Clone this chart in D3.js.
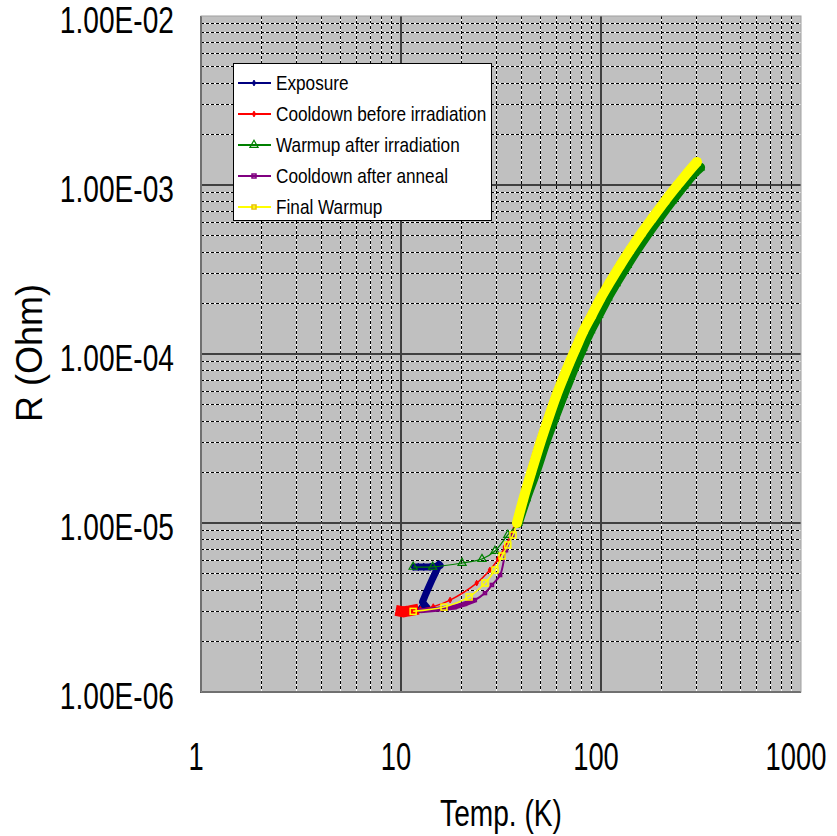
<!DOCTYPE html>
<html><head><meta charset="utf-8">
<script src="https://cdn.jsdelivr.net/npm/d3@7"></script>
<style>body{margin:0;background:#fff}svg{display:block}text{font-family:"Liberation Sans",Arial,sans-serif;fill:#000}</style>
</head><body>
<svg id="c" width="837" height="836"></svg>
<script>
// ---- data (T in K, R in Ohm) ----
const seriesNames = ["Exposure","Cooldown before irradiation","Warmup after irradiation","Cooldown after anneal","Final Warmup"];
const seriesColors = ["#000080","#ff0000","#008000","#800080","#ffff00"];
const xTickLabels = ["1","10","100","1000"];
const yTickLabels = ["1.00E-06","1.00E-05","1.00E-04","1.00E-03","1.00E-02"];
const exposure = [[12.4,3.1e-6],[12.9,3.1e-6],[13.5,3.15e-6],[12.8,3.4e-6],[13.3,3.8e-6],[13.8,4.2e-6],[14.4,4.7e-6],[15.0,5.2e-6],[15.5,5.7e-6],[15.7,5.6e-6],[15.0,5.55e-6],[14.0,5.5e-6],[13.0,5.5e-6],[12.2,5.5e-6],[11.5,5.5e-6]];
const cooldownBefore = [[293,1.37e-3],[262,1.175e-3],[233,9.9e-4],[204,8.1e-4],[175,6.34e-4],[155,5.23e-4],[136,4.14e-4],[121,3.36e-4],[107,2.62e-4],[97,2.16e-4],[87,1.70e-4],[79.5,1.38e-4],[72.7,1.09e-4],[68,9.03e-5],[63,7.3e-5],[58.2,5.74e-5],[53.4,4.28e-5],[48.5,3.05e-5],[43.7,2.03e-5],[40,1.4e-5],[37,1.0e-5],[35.8,8.73e-6],[33,7.21e-6],[30.6,6.12e-6],[27.8,5.27e-6],[23.9,4.41e-6],[17.6,3.5e-6],[14.5,3.2e-6],[12.5,3.08e-6],[11.5,3.05e-6],[11.0,3.02e-6],[10.6,3.0e-6],[10.3,2.98e-6],[10.0,3.0e-6]];
const warmupAfterIrr = [[11.5,5.5e-6],[14.4,5.5e-6],[20.2,5.8e-6],[25.4,6.12e-6],[29.5,6.83e-6],[34.2,8.5e-6],[38.4,1.0e-5],[42.2,1.4e-5],[47.3,2.03e-5],[53,3.05e-5],[58.9,4.28e-5],[64.8,5.74e-5],[70.2,7.3e-5],[75.6,9.03e-5],[81,1.09e-4],[88.6,1.38e-4],[97.2,1.70e-4],[108,2.16e-4],[118.8,2.62e-4],[135,3.36e-4],[151,4.14e-4],[172.8,5.23e-4],[194.4,6.34e-4],[226.8,8.1e-4],[259,9.9e-4],[291.6,1.175e-3],[313,1.27e-3]];
const cooldownAnneal = [[36,8.4e-6],[33.5,6.9e-6],[31.3,4.92e-6],[28.5,4.3e-6],[26.3,3.85e-6],[23.4,3.5e-6],[20.9,3.32e-6],[18.6,3.18e-6],[15.7,3.1e-6],[12.5,3.03e-6]];
const finalWarmup = [[11.5,3.0e-6],[16.4,3.18e-6],[21.9,3.65e-6],[26.3,4.41e-6],[29.5,5.27e-6],[32,6.38e-6],[34.2,7.41e-6],[36.3,8.49e-6],[38,1.0e-5],[41,1.4e-5],[45,2.03e-5],[50,3.05e-5],[55,4.28e-5],[60,5.74e-5],[65,7.3e-5],[70,9.03e-5],[75,1.09e-4],[82,1.38e-4],[90,1.70e-4],[100,2.16e-4],[110,2.62e-4],[125,3.36e-4],[140,4.14e-4],[160,5.23e-4],[180,6.34e-4],[210,8.1e-4],[240,9.9e-4],[270,1.175e-3],[302,1.37e-3]];
const allSeries = [exposure, cooldownBefore, warmupAfterIrr, cooldownAnneal, finalWarmup];
const markerTypes = ["diamond","diamond","triangle","square","square"];

// ---- layout ----
const L=201,R=801,T=16,B=692;
const svg=d3.select("#c");
const x=d3.scaleLog().domain([1,1000]).range([L,R]);
const y=d3.scaleLog().domain([1e-6,1e-2]).range([B,T]);

// narrow text: draw at (px,py) horizontally compressed by f
function ntext(parent,px,py,str,size,anchor,f){
  return parent.append("text").attr("transform",`translate(${px},${py}) scale(${f},1)`).attr("text-anchor",anchor).attr("font-size",size).text(str);
}

svg.append("rect").attr("x",L).attr("y",T).attr("width",R-L).attr("height",B-T).attr("fill","#c0c0c0");

// minor grid
const minorX=[],minorY=[];
[1,10,100].forEach(d=>{for(let k=2;k<=9;k++)minorX.push(d*k);});
[1e-6,1e-5,1e-4,1e-3].forEach(d=>{for(let k=2;k<=9;k++)minorY.push(d*k);});
const g=svg.append("g");
minorX.forEach(v=>{
  g.append("line").attr("x1",x(v)).attr("x2",x(v)).attr("y1",T).attr("y2",B).attr("stroke","#fff").attr("stroke-width",1).attr("shape-rendering","crispEdges");
  g.append("line").attr("x1",x(v)).attr("x2",x(v)).attr("y1",T).attr("y2",B).attr("stroke","#000").attr("stroke-width",1).attr("stroke-dasharray","3,2").attr("shape-rendering","crispEdges");
});
minorY.forEach(v=>{
  g.append("line").attr("y1",y(v)).attr("y2",y(v)).attr("x1",L).attr("x2",R).attr("stroke","#fff").attr("stroke-width",1).attr("shape-rendering","crispEdges");
  g.append("line").attr("y1",y(v)).attr("y2",y(v)).attr("x1",L).attr("x2",R).attr("stroke","#000").attr("stroke-width",1).attr("stroke-dasharray","3,2").attr("shape-rendering","crispEdges");
});
// border
svg.append("rect").attr("x",L).attr("y",T).attr("width",R-L).attr("height",B-T).attr("fill","none").attr("stroke","#a0a0a0").attr("stroke-width",1);
// major grid
[1,10,100].forEach(v=>g.append("line").attr("x1",x(v)).attr("x2",x(v)).attr("y1",T).attr("y2",B+1).attr("stroke","#404040").attr("stroke-width",2));
[1e-6,1e-5,1e-4,1e-3].forEach(v=>g.append("line").attr("y1",y(v)).attr("y2",y(v)).attr("x1",L-1).attr("x2",R).attr("stroke","#404040").attr("stroke-width",2));

// series
const line=d3.line().x(d=>x(d[0])).y(d=>y(d[1]));
const smooth=d3.line().x(d=>x(d[0])).y(d=>y(d[1])).curve(d3.curveCatmullRom.alpha(0.5));
function marker(sel,type,color,size){
  if(type==="diamond") sel.append("path").attr("d",d3.symbol(d3.symbolDiamond,size*size*0.6)()).attr("fill",color).attr("stroke",color);
  else if(type==="triangle") sel.append("path").attr("d",d3.symbol(d3.symbolTriangle,size*size*0.45)()).attr("fill","none").attr("stroke",color).attr("stroke-width",1.2);
  else sel.append("rect").attr("x",-size/2).attr("y",-size/2).attr("width",size).attr("height",size).attr("fill","none").attr("stroke",color).attr("stroke-width",1.5);
}
const lineW=[7,1.5,1.2,2,1.5];
const mSize=[5,4,8,3,6];
const plot=svg.append("g");
allSeries.forEach((data,i)=>{
  const c=seriesColors[i];
  const gs=plot.append("g");
  if(i===2||i===4){
    gs.append("path").datum(data.filter(d=>d[0]>=38)).attr("d",smooth).attr("fill","none").attr("stroke",c).attr("stroke-width",10).attr("stroke-linecap","round").attr("stroke-linejoin","round");
  }
  if(i===1){
    gs.append("path").datum(data.filter(d=>d[0]<=11.5)).attr("d",line).attr("fill","none").attr("stroke",c).attr("stroke-width",11).attr("stroke-linecap","square");
    gs.append("path").datum(data.filter(d=>d[0]>=37)).attr("d",smooth).attr("fill","none").attr("stroke",c).attr("stroke-width",4);
  }
  if(i===3){
    gs.append("path").datum(data.filter(d=>d[0]<=24)).attr("d",line).attr("fill","none").attr("stroke",c).attr("stroke-width",5);
  }
  gs.append("path").datum(data).attr("d",i===0?line:smooth).attr("fill","none").attr("stroke",c).attr("stroke-width",lineW[i]).attr("stroke-linejoin","round");
  data.forEach(d=>{const m=gs.append("g").attr("transform",`translate(${x(d[0])},${y(d[1])})`);marker(m,markerTypes[i],c,mSize[i]);});
});
// axis labels
const xt=[1,10,100,1000];
const xl=svg.append("g");
xt.forEach((v,i)=>ntext(xl,x(v)-5,770,xTickLabels[i],38,"middle",0.72));
const yt=[1e-6,1e-5,1e-4,1e-3,1e-2];
const yl=svg.append("g");
yt.forEach((v,i)=>ntext(yl,174,y(v)+17,yTickLabels[i],37,"end",0.76));
ntext(svg,501,826,"Temp. (K)",37,"middle",0.76);
svg.append("text").attr("transform","translate(42,353) rotate(-90)").attr("text-anchor","middle").attr("font-size",36).text("R (Ohm)");

// legend
const lg=svg.append("g");
lg.append("rect").attr("x",233.5).attr("y",63.5).attr("width",258).attr("height",157).attr("fill","#fff").attr("stroke","#000").attr("stroke-width",1);
const rowY=[83,114,145,176,207];
seriesNames.forEach((n,i)=>{
  lg.append("line").attr("x1",238).attr("x2",271).attr("y1",rowY[i]).attr("y2",rowY[i]).attr("stroke",seriesColors[i]).attr("stroke-width",2);
  const m=lg.append("g").attr("transform",`translate(254,${rowY[i]})`);
  marker(m,markerTypes[i],i===4?"#e8c000":seriesColors[i],i===2?8:4);
  ntext(lg,276,rowY[i]+7,n,20,"start",0.86);
});
</script>
</body></html>
